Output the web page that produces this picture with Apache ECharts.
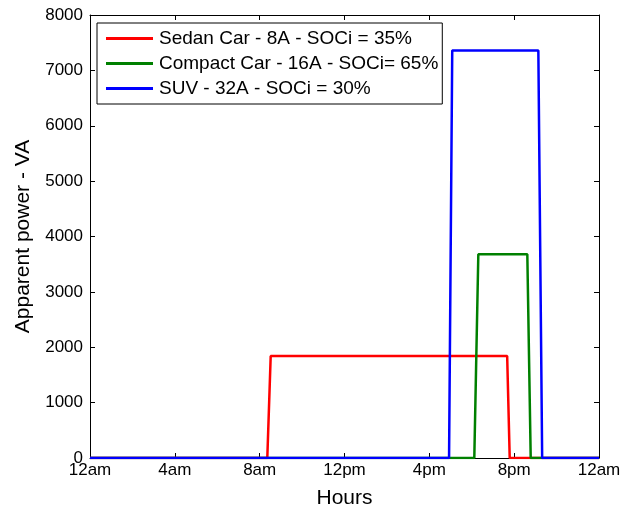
<!DOCTYPE html>
<html>
<head>
<meta charset="utf-8">
<script src="https://cdn.jsdelivr.net/npm/echarts@6/dist/echarts.min.js"></script>
<style>
  html, body { margin: 0; padding: 0; background: #fff; }
  #chart { width: 625px; height: 506px; }
</style>
</head>
<body>
<div id="chart"></div>
<script>
// Charging profiles: hour of day vs apparent power (VA)
const sedanHours   = [0, 8.36, 8.52, 19.67, 19.79, 24];
const sedanPower   = [0, 0, 1840, 1840, 0, 0];
const compactHours = [0, 18.12, 18.31, 20.62, 20.78, 24];
const compactPower = [0, 0, 3680, 3680, 0, 0];
const suvHours     = [0, 16.93, 17.08, 21.14, 21.32, 24];
const suvPower     = [0, 0, 7360, 7360, 0, 0];

const seriesNames = [
  'Sedan Car - 8A - SOCi = 35%',
  'Compact Car - 16A - SOCi= 65%',
  'SUV - 32A - SOCi = 30%'
];
const seriesColors = ['#ff0000', '#008000', '#0000ff'];
const hourTicks  = [0, 4, 8, 12, 16, 20, 24];
const hourLabels = ['12am', '4am', '8am', '12pm', '4pm', '8pm', '12am'];

const pairs = (xs, ys) => xs.map((x, i) => [x, ys[i]]);
const FONT = '"Liberation Sans", Arial, sans-serif';

const chart = echarts.init(document.getElementById('chart'), null, { renderer: 'canvas' });

function boxAxis(extra) {
  return Object.assign({
    axisLine: { show: true, onZero: false, lineStyle: { color: '#000', width: 1 } },
    axisTick: { show: true, inside: true, length: 5, lineStyle: { color: '#000', width: 1 } },
    splitLine: { show: false }
  }, extra);
}

function lineSeries(name, xs, ys, color) {
  return {
    name, type: 'line', data: pairs(xs, ys),
    symbol: 'none', showSymbol: false, color,
    lineStyle: { width: 2.5, color }
  };
}

chart.setOption({
  animation: false,
  backgroundColor: '#fff',
  grid: { left: 90, right: 26, top: 15, bottom: 48, containLabel: false, outerBoundsMode: 'none' },
  legend: {
    left: 97, top: 23,
    orient: 'vertical',
    backgroundColor: '#fff',
    borderColor: '#000', borderWidth: 1,
    padding: [6, 4, 6, 9],
    icon: 'rect',
    itemWidth: 47, itemHeight: 3, itemGap: 6,
    textStyle: { fontFamily: FONT, fontSize: 19, lineHeight: 19, color: '#000', padding: [0, 0, 0, 1] },
    data: seriesNames
  },
  xAxis: [
    boxAxis({
      type: 'value', min: 0, max: 24, interval: 4, position: 'bottom',
      name: 'Hours', nameLocation: 'middle', nameGap: 30,
      nameTextStyle: { fontFamily: FONT, fontSize: 21, color: '#000' },
      axisLabel: {
        fontFamily: FONT, fontSize: 17, color: '#000', margin: 4,
        formatter: v => hourLabels[hourTicks.indexOf(v)]
      }
    }),
    boxAxis({
      type: 'value', min: 0, max: 24, interval: 4, position: 'top',
      axisLabel: { show: false }
    })
  ],
  yAxis: [
    boxAxis({
      type: 'value', min: 0, max: 8000, interval: 1000, position: 'left',
      name: 'Apparent power - VA', nameLocation: 'middle', nameGap: 56,
      nameTextStyle: { fontFamily: FONT, fontSize: 21, color: '#000' },
      axisLabel: { fontFamily: FONT, fontSize: 17, color: '#000', margin: 7, formatter: v => String(v) }
    }),
    boxAxis({
      type: 'value', min: 0, max: 8000, interval: 1000, position: 'right',
      axisLabel: { show: false }
    })
  ],
  series: [
    lineSeries(seriesNames[0], sedanHours, sedanPower, seriesColors[0]),
    lineSeries(seriesNames[1], compactHours, compactPower, seriesColors[1]),
    lineSeries(seriesNames[2], suvHours, suvPower, seriesColors[2])
  ]
});
</script>
</body>
</html>
